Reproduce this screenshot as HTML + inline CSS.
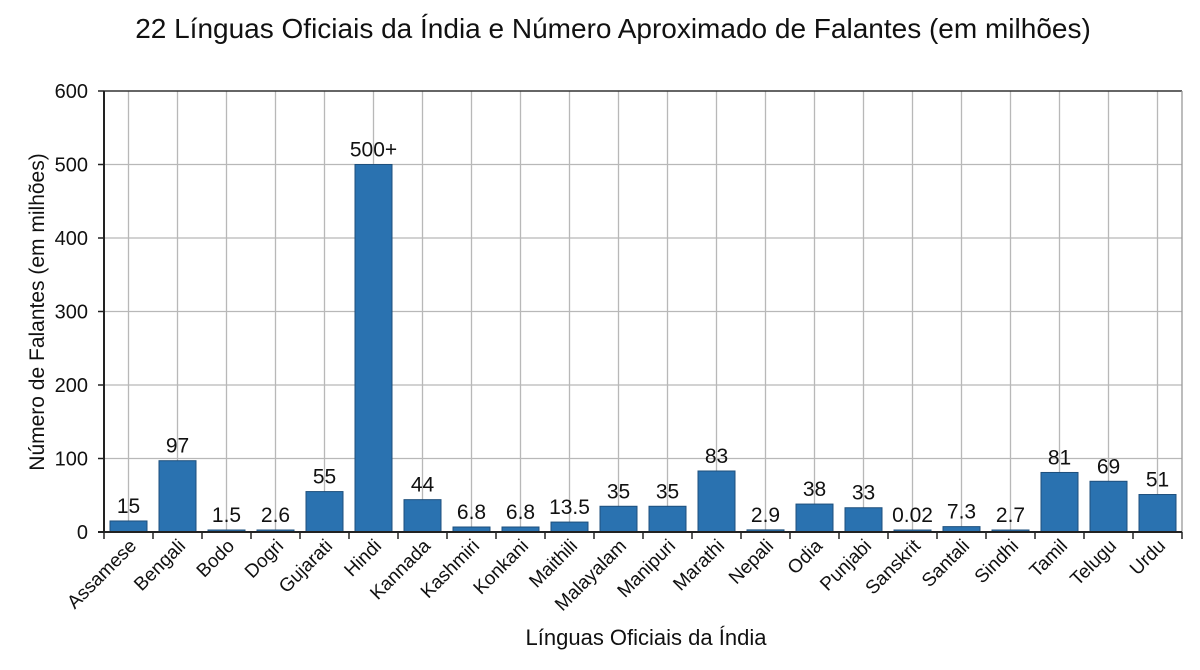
<!DOCTYPE html>
<html><head><meta charset="utf-8"><style>body{margin:0;background:#fff}svg{display:block}</style></head><body>
<svg width="1200" height="670" xmlns="http://www.w3.org/2000/svg" font-family="Liberation Sans, sans-serif">
<rect width="1200" height="670" fill="#fff"/>
<text x="613" y="38" font-size="28" text-anchor="middle" fill="#111">22 Línguas Oficiais da Índia e Número Aproximado de Falantes (em milhões)</text>
<g id="grid" stroke="#b8b8b8" stroke-width="1.3">
<line x1="104" x2="1182" y1="458.5" y2="458.5"/><line x1="104" x2="1182" y1="385" y2="385"/><line x1="104" x2="1182" y1="311.5" y2="311.5"/><line x1="104" x2="1182" y1="238" y2="238"/><line x1="104" x2="1182" y1="164.5" y2="164.5"/>
</g>
<g id="vg" stroke="#b8b8b8" stroke-width="1.3"></g>
<line x1="104" x2="1182" y1="91" y2="91" stroke="#333" stroke-width="1.5"/>
<line x1="1182" x2="1182" y1="91" y2="532" stroke="#999" stroke-width="1.3"/>
<g id="bars"></g>
<line x1="104" x2="104" y1="91" y2="532" stroke="#222" stroke-width="2"/>
<line x1="98" x2="1182" y1="532" y2="532" stroke="#222" stroke-width="2"/>
<g id="yt" font-size="20" text-anchor="end" fill="#111"></g>
<g id="xl" font-size="19" fill="#111"></g>
<text x="44" y="312" font-size="21" text-anchor="middle" transform="rotate(-90 44 312)" fill="#111">Número de Falantes (em milhões)</text>
<text x="646" y="645" font-size="22" text-anchor="middle" fill="#111">Línguas Oficiais da Índia</text>
</svg>
<script>
const ns="http://www.w3.org/2000/svg";
const d=[["Assamese",15,"15"],["Bengali",97,"97"],["Bodo",1.5,"1.5"],["Dogri",2.6,"2.6"],["Gujarati",55,"55"],["Hindi",500,"500+"],["Kannada",44,"44"],["Kashmiri",6.8,"6.8"],["Konkani",6.8,"6.8"],["Maithili",13.5,"13.5"],["Malayalam",35,"35"],["Manipuri",35,"35"],["Marathi",83,"83"],["Nepali",2.9,"2.9"],["Odia",38,"38"],["Punjabi",33,"33"],["Sanskrit",0.02,"0.02"],["Santali",7.3,"7.3"],["Sindhi",2.7,"2.7"],["Tamil",81,"81"],["Telugu",69,"69"],["Urdu",51,"51"]];
function el(t,a,p,txt){const e=document.createElementNS(ns,t);for(const k in a)e.setAttribute(k,a[k]);if(txt!==undefined)e.textContent=txt;document.getElementById(p).appendChild(e);return e;}
const s=441/600;
d.forEach((r,i)=>{const c=128.5+i*49;
el("line",{x1:c,x2:c,y1:91,y2:532},"vg");
const h=Math.max(r[1]*s,2);
el("rect",{x:c-18.5,y:532-h,width:37,height:h,fill:"#2a72b0",stroke:"#1d4f7c","stroke-width":1},"bars");
el("text",{x:c,y:532-h-8,"font-size":21,"text-anchor":"middle",fill:"#111"},"bars",r[2]);
el("line",{x1:c+24.5,x2:c+24.5,y1:532,y2:539,stroke:"#222","stroke-width":1.5},"bars");
el("text",{x:c+9,y:547,"text-anchor":"end",transform:`rotate(-45 ${c+9} 547)`},"xl",r[0]);
});
el("line",{x1:104,x2:104,y1:532,y2:539,stroke:"#222","stroke-width":1.5},"bars");
for(let v=0;v<=600;v+=100){const y=532-v*s;el("text",{x:88,y:y+7},"yt",v);el("line",{x1:98,x2:104,y1:y,y2:y,stroke:"#222","stroke-width":1.5},"bars");}
</script>
</body></html>
